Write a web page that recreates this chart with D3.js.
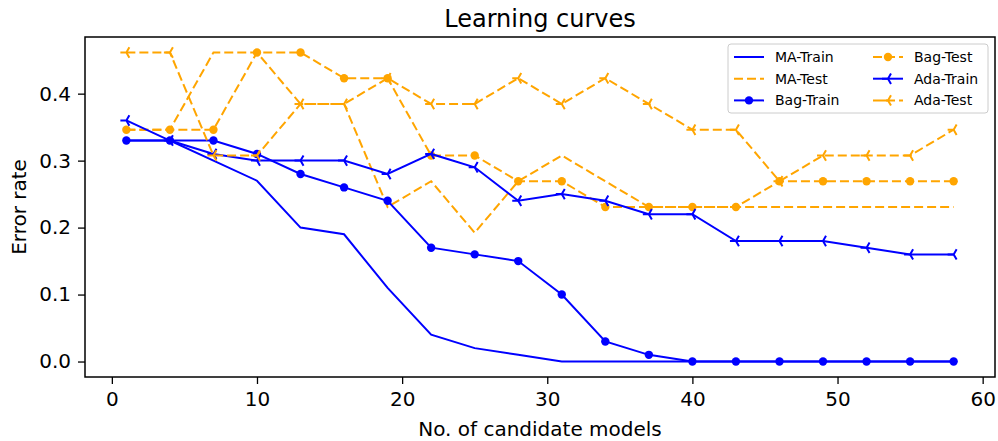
<!DOCTYPE html>
<html>
<head>
  <title>Learning curves</title>
  <script src="https://d3js.org/d3.v7.min.js"></script>
  <style>
    body { margin: 0; background: white; }
    text { font-family: "DejaVu Sans", sans-serif; fill: black; }
  </style>
</head>
<body>
  <div id="chart"></div>
  <script>
    // number of candidate models
    var models = [1, 4, 7, 10, 13, 16, 19, 22, 25, 28, 31, 34, 37, 40, 43, 46, 49, 52, 55, 58];

    var maTrain  = [0.33, 0.33, 0.30, 0.27, 0.20, 0.19, 0.11, 0.04, 0.02, 0.01, 0.0, 0.0, 0.0, 0.0, 0.0, 0.0, 0.0, 0.0, 0.0, 0.0];
    var maTest   = [0.3462, 0.3462, 0.4615, 0.4615, 0.3846, 0.3846, 0.2308, 0.2692, 0.1923, 0.2692, 0.3077, 0.2692, 0.2308, 0.2308, 0.2308, 0.2308, 0.2308, 0.2308, 0.2308, 0.2308];
    var bagTrain = [0.33, 0.33, 0.33, 0.31, 0.28, 0.26, 0.24, 0.17, 0.16, 0.15, 0.10, 0.03, 0.01, 0.0, 0.0, 0.0, 0.0, 0.0, 0.0, 0.0];
    var bagTest  = [0.3462, 0.3462, 0.3462, 0.4615, 0.4615, 0.4231, 0.4231, 0.3077, 0.3077, 0.2692, 0.2692, 0.2308, 0.2308, 0.2308, 0.2308, 0.2692, 0.2692, 0.2692, 0.2692, 0.2692];
    var adaTrain = [0.36, 0.33, 0.31, 0.30, 0.30, 0.30, 0.28, 0.31, 0.29, 0.24, 0.25, 0.24, 0.22, 0.22, 0.18, 0.18, 0.18, 0.17, 0.16, 0.16];
    var adaTest  = [0.4615, 0.4615, 0.3077, 0.3077, 0.3846, 0.3846, 0.4231, 0.3846, 0.3846, 0.4231, 0.3846, 0.4231, 0.3846, 0.3462, 0.3462, 0.2692, 0.3077, 0.3077, 0.3077, 0.3462];

    var xTicks = [0, 10, 20, 30, 40, 50, 60];
    var yTicks = [0.0, 0.1, 0.2, 0.3, 0.4];

    var series = [
      { name: "MA-Train",  values: maTrain,  color: "#0000ff", dash: null,  marker: null },
      { name: "MA-Test",   values: maTest,   color: "#ffa500", dash: "9,4", marker: null },
      { name: "Bag-Train", values: bagTrain, color: "#0000ff", dash: null,  marker: "circle" },
      { name: "Bag-Test",  values: bagTest,  color: "#ffa500", dash: "9,4", marker: "circle" },
      { name: "Ada-Train", values: adaTrain, color: "#0000ff", dash: null,  marker: "tri" },
      { name: "Ada-Test",  values: adaTest,  color: "#ffa500", dash: "9,4", marker: "tri" }
    ];

    var svg = d3.select("#chart")
                .append("svg")
                .attr("width", 998)
                .attr("height", 441);

    var plotLeft = 85, plotRight = 995, plotTop = 37, plotBottom = 377;

    var xScale = d3.scaleLinear()
                   .domain([-1.85, 60.85])
                   .range([plotLeft, plotRight]);

    var yScale = d3.scaleLinear()
                   .domain([-0.0231, 0.4846])
                   .range([plotBottom, plotTop]);

    var line = d3.line()
                 .x(d => xScale(d.x))
                 .y(d => yScale(d.y));

    // tri_left marker path
    function triPath(r) {
      var c = Math.cos(Math.PI / 3) * r, s = Math.sin(Math.PI / 3) * r;
      return `M0,0L${-r},0M0,0L${c},${-s}M0,0L${c},${s}`;
    }

    function drawMarkers(g, s, pts) {
      if (s.marker === "circle") {
        g.selectAll("circle")
         .data(pts)
         .enter()
         .append("circle")
         .attr("cx", d => xScale(d.x))
         .attr("cy", d => yScale(d.y))
         .attr("r", 4.2)
         .attr("fill", s.color);
      } else if (s.marker === "tri") {
        g.selectAll("path.mk")
         .data(pts)
         .enter()
         .append("path")
         .attr("class", "mk")
         .attr("transform", d => `translate(${xScale(d.x)},${yScale(d.y)})`)
         .attr("d", triPath(6))
         .attr("fill", "none")
         .attr("stroke", s.color)
         .attr("stroke-width", 2);
      }
    }

    // Lines
    series.forEach(function(s) {
      var pts = models.map((m, i) => ({ x: m, y: s.values[i] }));
      var g = svg.append("g");
      g.append("path")
       .datum(pts)
       .attr("fill", "none")
       .attr("stroke", s.color)
       .attr("stroke-width", 2)
       .attr("stroke-dasharray", s.dash)
       .attr("d", line);
      drawMarkers(g, s, pts);
    });

    // Axes
    var xAxis = svg.append("g")
       .attr("transform", `translate(0, ${plotBottom})`)
       .call(d3.axisBottom(xScale).tickValues(xTicks).tickSize(7).tickPadding(8).tickSizeOuter(0));

    var yAxis = svg.append("g")
       .attr("transform", `translate(${plotLeft}, 0)`)
       .call(d3.axisLeft(yScale).tickValues(yTicks).tickFormat(d3.format(".1f")).tickSize(7).tickPadding(7).tickSizeOuter(0));

    [xAxis, yAxis].forEach(function(a) {
      a.select(".domain").remove();
      a.selectAll(".tick line").attr("stroke", "black").attr("stroke-width", 1.3);
      a.selectAll(".tick text").style("font-size", "20px").style("font-family", "DejaVu Sans, sans-serif").attr("fill", "black");
    });

    // Frame
    svg.append("rect")
       .attr("x", plotLeft)
       .attr("y", plotTop)
       .attr("width", plotRight - plotLeft)
       .attr("height", plotBottom - plotTop)
       .attr("fill", "none")
       .attr("stroke", "black")
       .attr("stroke-width", 1.5);

    svg.append("text")
       .attr("x", (plotLeft + plotRight) / 2)
       .attr("y", 27)
       .style("text-anchor", "middle")
       .style("font-size", "24px")
       .text("Learning curves");

    svg.append("text")
       .attr("x", (plotLeft + plotRight) / 2)
       .attr("y", 436)
       .style("text-anchor", "middle")
       .style("font-size", "20px")
       .text("No. of candidate models");

    svg.append("text")
       .attr("transform", `translate(26, ${(plotTop + plotBottom) / 2}) rotate(-90)`)
       .style("text-anchor", "middle")
       .style("font-size", "20px")
       .text("Error rate");

    // Legend
    var legend = svg.append("g");
    legend.append("rect")
          .attr("x", 728)
          .attr("y", 44)
          .attr("width", 260)
          .attr("height", 69)
          .attr("rx", 3)
          .attr("fill", "white")
          .attr("fill-opacity", 0.8)
          .attr("stroke", "#cccccc")
          .attr("stroke-width", 1);

    series.forEach(function(s, i) {
      var col = Math.floor(i / 3), row = i % 3;
      var hx = col === 0 ? 734 : 873;
      var hy = 57 + row * 21.7;
      var item = legend.append("g");
      item.append("line")
          .attr("x1", hx).attr("x2", hx + 30)
          .attr("y1", hy).attr("y2", hy)
          .attr("stroke", s.color)
          .attr("stroke-width", 2)
          .attr("stroke-dasharray", s.dash);
      drawMarkers(item, s, [{ x: xScale.invert(hx + 15), y: yScale.invert(hy) }]);
      item.append("text")
          .attr("x", hx + 41)
          .attr("y", hy)
          .attr("dy", "0.36em")
          .style("font-size", "14px")
          .text(s.name);
    });
  </script>
</body>
</html>
